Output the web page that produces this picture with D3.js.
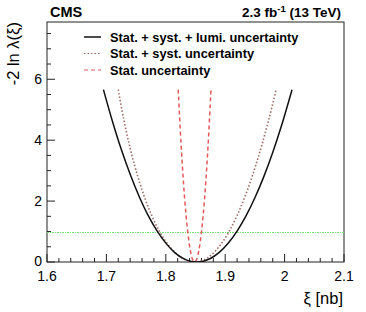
<!DOCTYPE html>
<html><head><meta charset="utf-8">
<script src="https://cdn.jsdelivr.net/npm/d3@7"></script>
<style>body{margin:0;background:#fff;} svg{display:block;font-family:"Liberation Sans",Arial,Helvetica,sans-serif;}</style>
</head><body>
<script>
// ---- data ----
const xTicks = [1.6, 1.7, 1.8, 1.9, 2.0, 2.1];
const xTickLabels = ["1.6", "1.7", "1.8", "1.9", "2", "2.1"];
const yTicks = [0, 2, 4, 6];
const yTickLabels = ["0", "2", "4", "6"];
const seriesNames = ["Stat. + syst. + lumi. uncertainty", "Stat. + syst. uncertainty", "Stat. uncertainty"];
// Stat. + syst. + lumi. (solid black)
const totalXi = [1.6950,1.710,1.725,1.740,1.755,1.770,1.785,1.800,1.815,1.830,1.841,1.852,1.863,1.875,1.890,1.905,1.920,1.935,1.950,1.965,1.980,1.995,2.0125];
const totalY  = [5.66,4.63,3.70,2.88,2.16,1.54,1.03,0.62,0.31,0.11,0.028,0.00,0.027,0.116,0.317,0.617,1.015,1.512,2.108,2.803,3.596,4.488,5.654];
// Stat. + syst. (dotted)
const systXi = [1.7199,1.7290,1.7392,1.7495,1.7629,1.7758,1.7893,1.8027,1.8172,1.8319,1.849,1.8653,1.8794,1.8935,1.9068,1.9206,1.9343,1.9491,1.9611,1.9737,1.9854];
const systY  = [5.66,4.70,3.80,3.03,2.20,1.55,1.01,0.60,0.28,0.08,0.00,0.08,0.28,0.60,1.01,1.55,2.20,3.03,3.80,4.70,5.63];
// Stat. only (dashed red)
const statXi = [1.8209,1.8265,1.832,1.8369,1.8415,1.845,1.8485,1.852,1.8555,1.8601,1.865,1.8705,1.8761];
const statY  = [5.66,3.60,2.02,1.00,0.36,0.09,0.00,0.09,0.36,1.00,2.02,3.60,5.66];
const refLevel = [1];
const cmsLabel = "CMS";

// ---- layout ----
const W = 366, H = 312;
const m = {left: 47, right: 22, top: 22, bottom: 50};
const svg = d3.select("body").append("svg").attr("width", W).attr("height", H);
const x = d3.scaleLinear().domain([1.6, 2.1]).range([m.left, W - m.right]);
const y = d3.scaleLinear().domain([0, 7.88]).range([H - m.bottom, m.top]);
const x0 = m.left, x1 = W - m.right, y0 = y(0), y1 = m.top;

// frame
svg.append("rect").attr("x", x0).attr("y", y1).attr("width", x1 - x0).attr("height", y0 - y1)
  .attr("fill", "none").attr("stroke", "#222").attr("stroke-width", 1);

// x ticks
const xMinor = d3.range(1.6, 2.1001, 0.02);
svg.append("g").selectAll("line").data(xMinor).join("line")
  .attr("x1", d => x(d)).attr("x2", d => x(d)).attr("y1", y0).attr("y2", d => y0 - (Math.abs(d*10 - Math.round(d*10)) < 1e-6 ? 8 : 4))
  .attr("stroke", "#222").attr("stroke-width", 1);
svg.append("g").selectAll("text").data(xTicks).join("text")
  .attr("x", d => x(d)).attr("y", y0 + 19).attr("text-anchor", "middle")
  .attr("font-size", 14).text((d, i) => xTickLabels[i]);

// y ticks
const yMinor = d3.range(0, 7.9, 0.5);
svg.append("g").selectAll("line").data(yMinor).join("line")
  .attr("x1", x0).attr("x2", d => x0 + (d % 2 === 0 ? 8 : 4)).attr("y1", d => y(d)).attr("y2", d => y(d))
  .attr("stroke", "#222").attr("stroke-width", 1);
svg.append("g").selectAll("text").data(yTicks).join("text")
  .attr("x", x0 - 5).attr("y", d => y(d) + (d === 0 ? 3.5 : 5)).attr("text-anchor", "end")
  .attr("font-size", 14).text((d, i) => yTickLabels[i]);

// clip
svg.append("clipPath").attr("id", "clip").append("rect")
  .attr("x", x0).attr("y", y1).attr("width", x1 - x0).attr("height", y0 - y1);
const g = svg.append("g").attr("clip-path", "url(#clip)");

// reference line at 1
g.selectAll("line.ref").data(refLevel).join("line")
  .attr("x1", x0).attr("x2", x1).attr("y1", d => Math.round(y(d)) + 0.5).attr("y2", d => Math.round(y(d)) + 0.5)
  .attr("stroke", "#6fe06f").attr("stroke-width", 1).attr("stroke-dasharray", "1.5,1")
  .attr("shape-rendering", "crispEdges");

const line = d3.line().x(d => x(d[0])).y(d => y(d[1])).curve(d3.curveCatmullRom.alpha(0.5));
const zip = (a, b) => a.map((v, i) => [v, b[i]]);

const styles = [
  {stroke: "#111", dash: null, width: 1.5},
  {stroke: "#a06a64", dash: "1.5,2", width: 1.6},
  {stroke: "#e05a5a", dash: "4,3", width: 1.5}
];
const data = [zip(totalXi, totalY), zip(systXi, systY), zip(statXi, statY)];
[2, 1, 0].forEach(i => {
  g.append("path").attr("d", line(data[i])).attr("fill", "none")
    .attr("stroke", styles[i].stroke).attr("stroke-width", styles[i].width)
    .attr("stroke-dasharray", styles[i].dash);
});

// legend
const leg = svg.append("g");
seriesNames.forEach((name, i) => {
  const ly = 37 + i * 16.5;
  leg.append("line").attr("x1", 84).attr("x2", 101).attr("y1", ly).attr("y2", ly)
    .attr("stroke", styles[i].stroke).attr("stroke-width", i === 0 ? 1.5 : 1.2)
    .attr("stroke-dasharray", styles[i].dash);
  leg.append("text").attr("x", 110).attr("y", ly + 4.5).attr("font-size", 12.8)
    .attr("font-weight", "bold").text(name);
});

// header texts
svg.append("text").attr("x", 50).attr("y", 17).attr("font-size", 14.5).attr("font-weight", "bold").text(cmsLabel);
const lumi = svg.append("text").attr("x", 341).attr("y", 17).attr("font-size", 13.5)
  .attr("font-weight", "bold").attr("text-anchor", "end");
lumi.append("tspan").text("2.3 fb");
lumi.append("tspan").attr("font-size", 9.5).attr("dy", -5).text("-1");
lumi.append("tspan").attr("dy", 5).text(" (13 TeV)");

// axis titles
svg.append("text").attr("transform", `translate(19,${y1}) rotate(-90)`).attr("text-anchor", "end")
  .attr("font-size", 16.5).text("-2 ln λ(ξ)");
svg.append("text").attr("x", x1 - 1).attr("y", 304).attr("text-anchor", "end")
  .attr("font-size", 16.5).text("ξ [nb]");
</script>
</body></html>
